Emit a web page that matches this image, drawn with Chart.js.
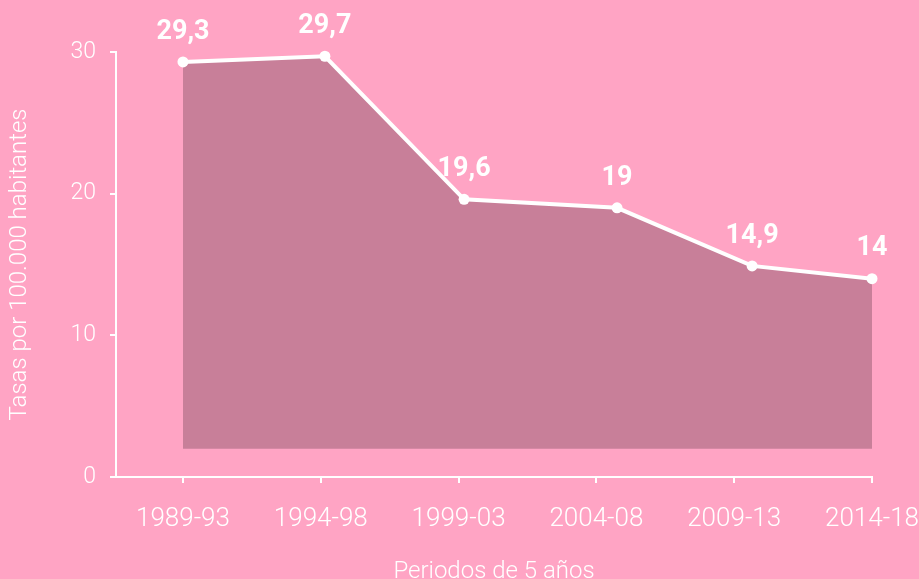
<!DOCTYPE html>
<html>
<head>
<meta charset="utf-8">
<script src="https://cdn.jsdelivr.net/npm/chart.js@4/dist/chart.umd.min.js"></script>
<style>
  html, body { margin: 0; padding: 0; background: #ffa4c4; overflow: hidden; }
  #wrap { width: 919px; height: 579px; }
</style>
</head>
<body>
<div id="wrap"><canvas id="myChart" width="919" height="579"></canvas></div>
<script>
// periods and rates (tasas por 100.000 habitantes)
const periods = ['1989-93', '1994-98', '1999-03', '2004-08', '2009-13', '2014-18'];
const rates = [29.3, 29.7, 19.6, 19, 14.9, 14];
// where each point sits along the period axis
const pointPos = [0, 1.03, 2.04, 3.15, 4.13, 5];
const tickPos = [0, 1, 2, 3, 4, 5];
const yTicks = [0, 10, 20, 30];

const WHITE = '#ffffff';
const FONT = 'Roboto, "DejaVu Sans", sans-serif';

const valueLabels = {
    id: 'valueLabels',
    afterDatasetsDraw(chart) {
        const ctx = chart.ctx;
        const meta = chart.getDatasetMeta(0);
        ctx.save();
        ctx.fillStyle = WHITE;
        ctx.font = 'bold 27px ' + FONT;
        ctx.textAlign = 'center';
        ctx.textBaseline = 'middle';
        meta.data.forEach((pt, i) => {
            ctx.fillText(String(rates[i]).replace('.', ','), pt.x, pt.y - 30);
        });
        ctx.restore();
    }
};

let myChart = document.getElementById('myChart').getContext('2d');

let rateChart = new Chart(myChart, {
    type: 'line',
    data: {
        datasets: [{
            data: rates.map((v, i) => ({x: pointPos[i], y: v})),
            borderColor: WHITE,
            borderWidth: 4,
            backgroundColor: '#c87f99',
            fill: {value: 2},
            pointRadius: 5.5,
            pointBorderWidth: 0,
            pointBackgroundColor: WHITE,
            tension: 0,
            clip: false
        }]
    },
    options: {
        responsive: false,
        animation: false,
        events: [],
        layout: {padding: {top: 52, right: 47, bottom: 0, left: 0}},
        plugins: {legend: {display: false}, tooltip: {enabled: false}},
        scales: {
            x: {
                type: 'linear',
                min: -0.486,
                max: 5,
                afterBuildTicks: s => { s.ticks = tickPos.map(v => ({value: v})); },
                afterFit: s => { s.height = 102; s.paddingRight = 0; s.paddingLeft = 0; },
                grid: {drawOnChartArea: false, drawTicks: true, tickLength: 6, color: WHITE, lineWidth: 2},
                border: {color: WHITE, width: 2},
                ticks: {
                    color: WHITE,
                    padding: 21,
                    font: {family: FONT, size: 26, weight: 300},
                    callback: (v) => periods[tickPos.indexOf(v)],
                    maxRotation: 0
                },
                title: {
                    display: true,
                    text: 'Periodos de 5 años',
                    color: WHITE,
                    font: {family: FONT, size: 24, weight: 300},
                    padding: {top: 0, bottom: -7}
                }
            },
            y: {
                min: 0,
                max: 30,
                afterBuildTicks: s => { s.ticks = yTicks.map(v => ({value: v})); },
                afterFit: s => { s.width = 116; },
                grid: {drawOnChartArea: false, drawTicks: true, tickLength: 6, color: WHITE, lineWidth: 2},
                border: {color: WHITE, width: 2},
                ticks: {
                    color: WHITE,
                    padding: 14,
                    font: {family: FONT, size: 23, weight: 300}
                },
                title: {
                    display: true,
                    text: 'Tasas por 100.000 habitantes',
                    color: WHITE,
                    font: {family: FONT, size: 24, weight: 300},
                    padding: {top: 6, bottom: 0}
                }
            }
        }
    },
    plugins: [valueLabels]
});
</script>
</body>
</html>
